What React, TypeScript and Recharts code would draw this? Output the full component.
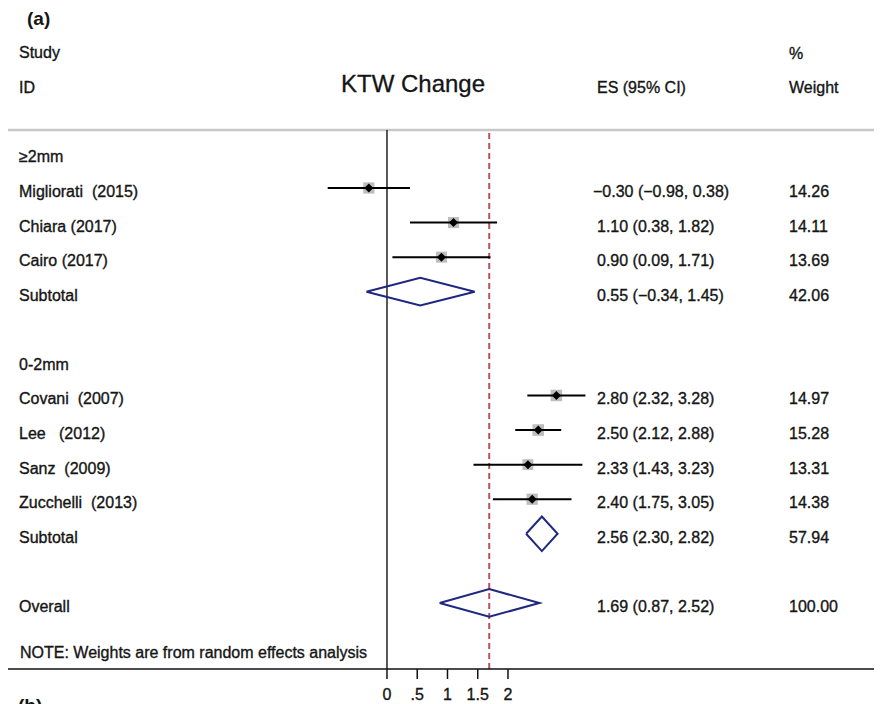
import React from 'react';
import { ComposedChart, Scatter, XAxis, YAxis, ReferenceLine, Customized } from 'recharts';

// ---- data ----
const rowLabels = ['≥2mm', 'Migliorati  (2015)', 'Chiara (2017)', 'Cairo (2017)', 'Subtotal', '', '0-2mm', 'Covani  (2007)', 'Lee   (2012)', 'Sanz  (2009)', 'Zucchelli  (2013)', 'Subtotal', '', 'Overall'];
const rowKinds = ['header', 'study', 'study', 'study', 'subtotal', 'blank', 'header', 'study', 'study', 'study', 'study', 'subtotal', 'blank', 'overall'];
const esValues: (number | null)[] = [null, -0.30, 1.10, 0.90, 0.55, null, null, 2.80, 2.50, 2.33, 2.40, 2.56, null, 1.69];
const ciLow: (number | null)[] = [null, -0.98, 0.38, 0.09, -0.34, null, null, 2.32, 2.12, 1.43, 1.75, 2.30, null, 0.87];
const ciHigh: (number | null)[] = [null, 0.38, 1.82, 1.71, 1.45, null, null, 3.28, 2.88, 3.23, 3.05, 2.82, null, 2.52];
const weights: (number | null)[] = [null, 14.26, 14.11, 13.69, 42.06, null, null, 14.97, 15.28, 13.31, 14.38, 57.94, null, 100.0];
const xTicks = [0, 0.5, 1, 1.5, 2];
const xTickLabels = ['0', '.5', '1', '1.5', '2'];
const overallES = 1.69;

// ---- style / layout ----
const FONT = '"Liberation Sans", Arial, Helvetica, sans-serif';
const TEXT = '#151515';
const NAVY = '#1f2780';
const DASH = '#b8505f';
const BOX = '#bdbdbd';
const W = 874;
const H = 696;
const X_DOMAIN: [number, number] = [-6.264, 8.182];
const Y_DOMAIN: [number, number] = [-0.677, 14.91];
const COL_LABEL = 11;
const COL_ES = 589;
const COL_W = 781;
const DIAMOND_HALF = [0.4, 0.5, 0.4];
const TEXT_STROKE = 0.35;

const fmt = (v: number) => (v < 0 ? '\u2212' : '') + Math.abs(v).toFixed(2);

const rows = rowLabels.map((label, i) => ({
  i,
  label,
  kind: rowKinds[i],
  es: esValues[i],
  lo: ciLow[i],
  hi: ciHigh[i],
  w: weights[i],
}));

const studyRows = rows.filter((r) => r.kind === 'study');
const pooledRows = rows.filter((r) => r.kind === 'subtotal' || r.kind === 'overall');
const textRows = rows.filter((r) => r.kind !== 'blank').map((r) => ({ ...r, x: 0, y: r.i }));

const boxData = studyRows.map((r) => ({ x: r.es as number, y: r.i, w: r.w as number }));
const ciSegments = studyRows.map((r) => [
  { x: r.lo as number, y: r.i },
  { x: r.hi as number, y: r.i },
]);
const diamonds = pooledRows.map((r, k) => {
  const h = DIAMOND_HALF[k];
  return [
    { x: r.lo as number, y: r.i },
    { x: r.es as number, y: r.i - h },
    { x: r.hi as number, y: r.i },
    { x: r.es as number, y: r.i + h },
    { x: r.lo as number, y: r.i },
  ];
});

const Nothing = () => <g />;

const BoxShape = (props: any) => {
  const { cx, cy, payload } = props;
  const s = 11.5 * Math.sqrt(payload.w / 15);
  return <rect x={cx - s / 2} y={cy - s / 2} width={s} height={s} fill={BOX} />;
};

const MarkerShape = (props: any) => {
  const { cx, cy } = props;
  const r = 4.5;
  return <path d={`M${cx - r},${cy}L${cx},${cy - r}L${cx + r},${cy}L${cx},${cy + r}Z`} fill="#000" />;
};

const common = { fontFamily: FONT, fontSize: 16, fill: TEXT, stroke: TEXT, strokeWidth: TEXT_STROKE } as any;

const TextShape = (props: any) => {
  const { cy, payload } = props;
  const ty = cy + 9;
  const parts: any[] = [
    <text key="l" x={COL_LABEL} y={ty} {...common} style={{ whiteSpace: 'pre' }}>
      {payload.label}
    </text>,
  ];
  if (payload.es !== null) {
    const s = `${fmt(payload.es)} (${fmt(payload.lo)}, ${fmt(payload.hi)})`;
    parts.push(
      <text key="e" x={COL_ES - (payload.es < 0 ? 4 : 0)} y={ty} {...common}>
        {s}
      </text>
    );
    parts.push(
      <text key="w" x={COL_W} y={ty} {...common}>
        {payload.w.toFixed(2)}
      </text>
    );
  }
  return <g>{parts}</g>;
};

const Headers = () => {
  return (
    <g>
      <text x={19} y={17} fontFamily={FONT} fontSize={19} fontWeight="bold" fill={TEXT}>(a)</text>
      <text x={COL_LABEL} y={50} {...common}>Study</text>
      <text x={COL_LABEL} y={85} {...common}>ID</text>
      <text x={405} y={84} fontFamily={FONT} fontSize={24} fill={TEXT} stroke={TEXT} strokeWidth={0.3} textAnchor="middle">KTW Change</text>
      <text x={COL_ES} y={85} {...common}>ES (95% CI)</text>
      <text x={COL_W} y={51} {...common}>%</text>
      <text x={COL_W} y={85} {...common}>Weight</text>
      <text x={COL_LABEL + 1} y={650} {...common}>NOTE: Weights are from random effects analysis</text>
      <text x={10} y={704} fontFamily={FONT} fontSize={19} fontWeight="bold" fill={TEXT}>(b)</text>
    </g>
  );
};

export default function App() {
  return (
    <div style={{ width: W, height: H, fontFamily: FONT }}>
      <ComposedChart width={W} height={H} margin={{ top: 122, right: 0, bottom: 5, left: 0 }}>
        <XAxis
          type="number"
          dataKey="x"
          domain={X_DOMAIN}
          allowDataOverflow
          ticks={xTicks}
          interval={0}
          tickFormatter={(v: number) => xTickLabels[xTicks.indexOf(v)] ?? String(v)}
          height={30}
          tickSize={10}
          tickMargin={10}
          axisLine={{ stroke: '#111', strokeWidth: 1.5 }}
          tickLine={{ stroke: '#111', strokeWidth: 1.5 }}
          tick={{ fontFamily: FONT, fontSize: 16, fill: TEXT, stroke: TEXT, strokeWidth: TEXT_STROKE }}
        />
        <YAxis type="number" dataKey="y" domain={Y_DOMAIN} reversed hide allowDataOverflow />
        <ReferenceLine y={Y_DOMAIN[0]} stroke="#c8c8c8" strokeWidth={2.5} ifOverflow="extendDomain" />
        <ReferenceLine x={0} stroke="#111" strokeWidth={1.4} />
        <Scatter data={boxData} shape={BoxShape} isAnimationActive={false} />
        {ciSegments.map((seg, k) => (
          <Scatter
            key={`ci${k}`}
            data={seg}
            line={{ stroke: '#000', strokeWidth: 2 }}
            shape={Nothing}
            isAnimationActive={false}
          />
        ))}
        <Scatter data={boxData} shape={MarkerShape} isAnimationActive={false} />
        {diamonds.map((d, k) => (
          <Scatter
            key={`d${k}`}
            data={d}
            line={{ stroke: NAVY, strokeWidth: 2, strokeLinejoin: 'miter' }}
            shape={Nothing}
            isAnimationActive={false}
          />
        ))}
        <ReferenceLine x={overallES} stroke={DASH} strokeWidth={2} strokeDasharray="6 4" />
        <Scatter data={textRows} shape={TextShape} isAnimationActive={false} />
        <Customized component={Headers} />
      </ComposedChart>
    </div>
  );
}
